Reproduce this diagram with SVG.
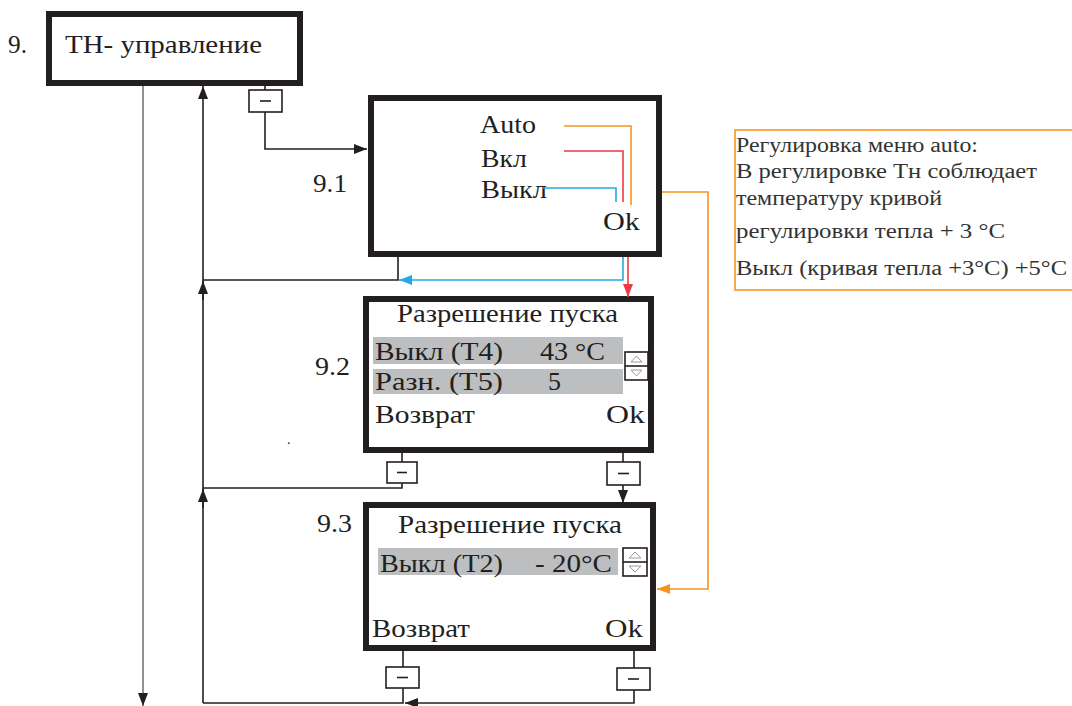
<svg xmlns="http://www.w3.org/2000/svg" width="1072" height="706" viewBox="0 0 1072 706">
<style>
.box{fill:#fff;stroke:#231f20;stroke-width:6}
.t{font-family:"Liberation Serif","DejaVu Serif","Noto Serif","Times New Roman",serif;font-size:26px;fill:#231f20}
.n{font-family:"Liberation Serif","DejaVu Serif","Noto Serif","Times New Roman",serif;font-size:20px;fill:#333}
.hl{fill:#bcbec0}
.ln{fill:none;stroke:#231f20;stroke-width:1.6}
.btn{fill:#fff;stroke:#231f20;stroke-width:1.6}
.sc{fill:#fff;stroke:#231f20;stroke-width:1.6}
.tri{fill:none;stroke:#9a9a9a;stroke-width:1}
.blue{stroke:#27aae1}
.red{stroke:#ee3a43}
.orange{stroke:#f7941e}
.gray{stroke:#777}
</style>
<defs>
<marker id="ak" markerUnits="userSpaceOnUse" markerWidth="14" markerHeight="12" refX="13" refY="5" orient="auto"><path d="M0,0 L13,5 L0,10 z" fill="#231f20"/></marker>
<marker id="ab" markerUnits="userSpaceOnUse" markerWidth="14" markerHeight="12" refX="13" refY="5" orient="auto"><path d="M0,0 L13,5 L0,10 z" fill="#27aae1"/></marker>
<marker id="ar" markerUnits="userSpaceOnUse" markerWidth="14" markerHeight="12" refX="13" refY="5" orient="auto"><path d="M0,0 L13,5 L0,10 z" fill="#ee3a43"/></marker>
<marker id="ao" markerUnits="userSpaceOnUse" markerWidth="14" markerHeight="12" refX="13" refY="5" orient="auto"><path d="M0,0 L13,5 L0,10 z" fill="#f7941e"/></marker>
</defs>
<rect width="1072" height="706" fill="#fff"/>

<g id="node-9">
<rect class="box" x="49" y="14" width="251" height="69"/>
<text class="t" x="8" y="53" textLength="19" lengthAdjust="spacingAndGlyphs">9.</text>
<text class="t" x="65" y="53" textLength="197" lengthAdjust="spacingAndGlyphs">ТН- управление</text>
</g>

<g id="node-9-1">
<rect class="box" x="371" y="98" width="288" height="156"/>
<text class="t" x="313" y="192" textLength="34" lengthAdjust="spacingAndGlyphs">9.1</text>
<text class="t" x="480" y="133" textLength="56" lengthAdjust="spacingAndGlyphs">Auto</text>
<text class="t" x="481" y="167" textLength="46" lengthAdjust="spacingAndGlyphs">Вкл</text>
<text class="t" x="481" y="198" textLength="66" lengthAdjust="spacingAndGlyphs">Выкл</text>
<text class="t" x="603" y="230" textLength="37" lengthAdjust="spacingAndGlyphs">Ok</text>
</g>

<g id="node-9-2">
<rect class="box" x="366" y="299" width="285" height="151"/>
<text class="t" x="315" y="375" textLength="35" lengthAdjust="spacingAndGlyphs">9.2</text>
<text class="t" x="397" y="322" textLength="221" lengthAdjust="spacingAndGlyphs">Разрешение пуска</text>
<rect class="hl" x="373" y="337" width="250" height="27"/>
<rect class="hl" x="373" y="369" width="250" height="25"/>
<text class="t" x="375" y="360" textLength="128" lengthAdjust="spacingAndGlyphs">Выкл  (T4)</text>
<text class="t" x="540" y="360" textLength="65" lengthAdjust="spacingAndGlyphs">43 °C</text>
<text class="t" x="375" y="390" textLength="128" lengthAdjust="spacingAndGlyphs">Разн.  (T5)</text>
<text class="t" x="548" y="390">5</text>
<text class="t" x="375" y="423" textLength="100" lengthAdjust="spacingAndGlyphs">Возврат</text>
<text class="t" x="606" y="423" textLength="39" lengthAdjust="spacingAndGlyphs">Ok</text>
<rect class="sc" x="625" y="352" width="23" height="28"/>
<path class="ln" d="M625,366 H648"/>
<path class="tri" d="M631,362 L636.5,356 L642,362 z M631,370 L636.5,376 L642,370 z"/>
</g>

<g id="node-9-3">
<rect class="box" x="366" y="505" width="287" height="143"/>
<text class="t" x="317" y="532" textLength="35" lengthAdjust="spacingAndGlyphs">9.3</text>
<text class="t" x="398" y="533" textLength="224" lengthAdjust="spacingAndGlyphs">Разрешение пуска</text>
<rect class="hl" x="378" y="548" width="240" height="27"/>
<text class="t" x="380" y="572" textLength="123" lengthAdjust="spacingAndGlyphs">Выкл (T2)</text>
<text class="t" x="535" y="572" textLength="77" lengthAdjust="spacingAndGlyphs">- 20°C</text>
<text class="t" x="372" y="637" textLength="98" lengthAdjust="spacingAndGlyphs">Возврат</text>
<text class="t" x="605" y="637" textLength="38" lengthAdjust="spacingAndGlyphs">Ok</text>
<rect class="sc" x="623" y="548" width="24" height="28"/>
<path class="ln" d="M623,562 H647"/>
<path class="tri" d="M629,558 L635,552 L641,558 z M629,566 L635,572 L641,566 z"/>
</g>

<g id="note">
<rect x="735" y="130" width="345" height="160" fill="#fff" stroke="#f7941e" stroke-width="1.6"/>
<text class="n" x="736" y="152" textLength="242" lengthAdjust="spacingAndGlyphs">Регулировка меню auto:</text>
<text class="n" x="736" y="178" textLength="301" lengthAdjust="spacingAndGlyphs">В регулировке  Тн соблюдает</text>
<text class="n" x="736" y="205" textLength="206" lengthAdjust="spacingAndGlyphs">температуру кривой</text>
<text class="n" x="736" y="238" textLength="269" lengthAdjust="spacingAndGlyphs">регулировки тепла  + 3 °C</text>
<text class="n" x="736" y="275" textLength="331" lengthAdjust="spacingAndGlyphs">Выкл (кривая тепла +3°C) +5°C</text>
</g>

<g id="connectors">
<path class="ln gray" d="M143,86 V706" marker-end="url(#ak)"/>
<path class="ln" d="M203,703 V86" marker-end="url(#ak)"/>
<path class="ln" d="M203,300 V281" marker-end="url(#ak)"/>
<path class="ln" d="M203,508 V489" marker-end="url(#ak)"/>
<path class="ln" d="M265,86 V90"/>
<path class="ln" d="M265,112 V149 H367" marker-end="url(#ak)"/>
<path class="ln" d="M398,257 V280 H203"/>
<path class="ln blue" d="M623,257 V280 H399" marker-end="url(#ab)"/>
<path class="ln red" d="M628,257 V297" marker-end="url(#ar)"/>
<path class="ln orange" d="M662,192 H708 V589 H657" marker-end="url(#ao)"/>
<path class="ln orange" d="M564,126 H631 V205"/>
<path class="ln red" d="M564,151 H623 V202"/>
<path class="ln blue" d="M543,188 H616 V202"/>
<path class="ln" d="M402,453 V462 M402,483 V488 H203"/>
<path class="ln" d="M623,453 V462"/>
<path class="ln" d="M623,485 V503" marker-end="url(#ak)"/>
<path class="ln" d="M403,651 V667 M403,688 V703 H203"/>
<path class="ln" d="M634,651 V668"/>
<path class="ln" d="M634,690 V703 H405" marker-end="url(#ak)"/>
</g>

<g id="buttons">
<rect class="btn" x="249" y="90" width="33" height="22"/><path class="ln" d="M260,101 H271"/>
<rect class="btn" x="387" y="462" width="30" height="21"/><path class="ln" d="M397,472.5 H407"/>
<rect class="btn" x="607" y="462" width="33" height="23"/><path class="ln" d="M618,473.5 H629"/>
<rect class="btn" x="386" y="667" width="33" height="21"/><path class="ln" d="M397,677.5 H408"/>
<rect class="btn" x="617" y="668" width="33" height="22"/><path class="ln" d="M628,679 H639"/>
</g>

<text class="t" x="287" y="444" style="font-size:14px">.</text>
</svg>
